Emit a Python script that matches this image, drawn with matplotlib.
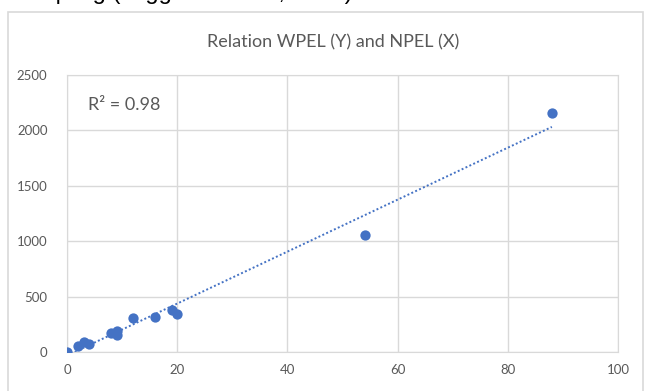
import numpy as np
import matplotlib.pyplot as plt
from matplotlib.patches import Rectangle

# values
npel = [0, 2, 3, 4, 8, 9, 9, 12, 16, 19, 20, 54, 88]
wpel = [0, 50, 90, 75, 175, 190, 155, 310, 320, 375, 345, 1060, 2160]
x_ticks = [0, 20, 40, 60, 80, 100]
y_ticks = [0, 500, 1000, 1500, 2000, 2500]

blue = '#4472C4'
grid_col = '#D9D9D9'
txt_col = '#595959'
plt.rcParams['font.family'] = ['Lato', 'DejaVu Sans']

fig = plt.figure(figsize=(6.46, 3.91), dpi=100)

# cut-off line of the page text above the chart (only the descenders show)
fig.text(0.055, 1 + 1 / 391, 'mpling (suggested size, n=30)', fontsize=17,
         family='Liberation Sans', color='black', va='baseline')

# chart border
fig.patches.append(Rectangle((8 / 646, -0.01), 635 / 646, 1 - 12 / 391 + 0.01,
                             transform=fig.transFigure, fill=False,
                             edgecolor=grid_col, linewidth=1.2))

ax = fig.add_axes([67 / 646, 1 - 352 / 391, 551 / 646, 277 / 391])

x = np.array(npel, dtype=float)
y = np.array(wpel, dtype=float)
k, b = np.polyfit(x, y, 1)
xs = np.array([0, x.max()])
ax.plot(xs, k * xs + b, color=blue, linestyle=(0, (1, 1.2)), linewidth=1.4, zorder=2)
ax.scatter(x, y, s=55, color=blue, zorder=3, linewidths=0)

ax.set_xlim(0, 100)
ax.set_ylim(0, 2500)
ax.set_xticks(x_ticks)
ax.set_yticks(y_ticks)
ax.grid(True, color=grid_col, linewidth=1)
ax.set_axisbelow(True)
for sp in ax.spines.values():
    sp.set_color(grid_col)
ax.tick_params(length=0, colors=txt_col, labelsize=9.5)
ax.tick_params(axis='x', pad=9)
ax.tick_params(axis='y', pad=14)

ax.text(0.038, 0.89, 'R\u00b2 = 0.98', transform=ax.transAxes, fontsize=13,
        color=txt_col, va='center')
fig.text(333 / 646, 1 - 42 / 391, 'Relation WPEL (Y) and NPEL (X)', fontsize=13,
         color=txt_col, ha='center', va='center')

fig.savefig('out.png', dpi=100)
